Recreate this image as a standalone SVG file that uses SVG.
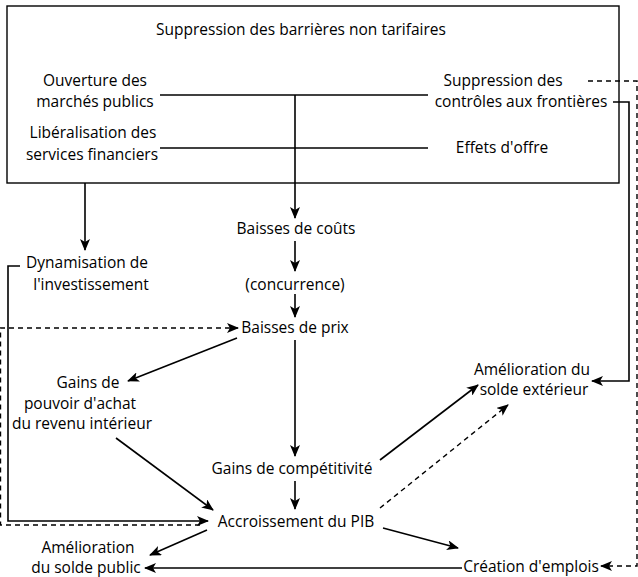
<svg xmlns="http://www.w3.org/2000/svg" width="638" height="577" viewBox="0 0 638 577">
<style>
text{font-family:"Open Sans","Liberation Sans",sans-serif;font-size:15.5px;fill:#000;text-anchor:middle}
.l{fill:none;stroke:#000;stroke-width:1.6}
.d{fill:none;stroke:#000;stroke-width:1.4;stroke-dasharray:5 4}
.a{marker-end:url(#ah)}
</style>
<defs>
<marker id="ah" viewBox="0 0 12 10" refX="11" refY="5" markerWidth="12" markerHeight="10" markerUnits="userSpaceOnUse" orient="auto">
<path d="M0,0 L12,5 L0,10 L3,5 z" fill="#000"/>
</marker>
</defs>
<g id="box">
<rect x="7" y="6" width="612" height="177" fill="none" stroke="#000" stroke-width="1.4"/>
<text x="301" y="35">Suppression des barrières non tarifaires</text>
</g>
<g id="ouverture"><text x="95" y="86">Ouverture des</text><text x="95" y="107">marchés publics</text></g>
<g id="liberalisation"><text x="93" y="138">Libéralisation des</text><text x="92" y="160">services financiers</text></g>
<g id="suppression"><text x="503" y="86">Suppression des</text><text x="521" y="107">contrôles aux frontières</text></g>
<g id="effets"><text x="502" y="153">Effets d'offre</text></g>
<g id="baisses-couts"><text x="296" y="234">Baisses de coûts</text></g>
<g id="dynamisation"><text x="87" y="268">Dynamisation de</text><text x="91" y="290">l'investissement</text></g>
<g id="concurrence"><text x="295" y="290">(concurrence)</text></g>
<g id="baisses-prix"><text x="295" y="333">Baisses de prix</text></g>
<g id="gains-pouvoir"><text x="88" y="388">Gains de</text><text x="80" y="409">pouvoir d'achat</text><text x="82" y="429">du revenu intérieur</text></g>
<g id="solde-exterieur"><text x="532" y="375">Amélioration du</text><text x="534" y="395">solde extérieur</text></g>
<g id="competitivite"><text x="292" y="474">Gains de compétitivité</text></g>
<g id="pib"><text x="296" y="527">Accroissement du PIB</text></g>
<g id="solde-public"><text x="88" y="553">Amélioration</text><text x="86" y="573">du solde public</text></g>
<g id="emplois"><text x="531" y="572">Création d'emplois</text></g>
<g id="connectors">
<line class="l" x1="160" y1="95" x2="428" y2="95"/>
<line class="l" x1="160" y1="148" x2="428" y2="148"/>
<line class="l a" x1="295" y1="95" x2="295" y2="218"/>
<line class="l a" x1="85" y1="183" x2="85" y2="250"/>
<line class="l a" x1="295" y1="241" x2="295" y2="271"/>
<line class="l a" x1="295" y1="294" x2="295" y2="317"/>
<line class="l a" x1="295" y1="340" x2="295" y2="456"/>
<line class="l a" x1="295" y1="481" x2="295" y2="509"/>
<line class="l a" x1="237" y1="338" x2="128" y2="381"/>
<line class="l a" x1="116" y1="438" x2="213" y2="510"/>
<line class="l a" x1="380" y1="460" x2="478" y2="385"/>
<line class="d a" x1="380" y1="508" x2="508" y2="405"/>
<line class="l a" x1="383" y1="528" x2="458" y2="548"/>
<line class="l a" x1="207" y1="530" x2="150" y2="555"/>
<line class="l a" x1="462" y1="568" x2="145" y2="568"/>
<polyline class="l a" points="20,266 8,266 8,521 208,521"/>
<polyline class="d a" points="200,525 0.5,525 0.5,328 238,328"/>
<polyline class="l a" points="613,102 629,102 629,381 592,381"/>
<polyline class="d a" points="588,81 637,81 637,566 601,566"/>
</g>
</svg>
